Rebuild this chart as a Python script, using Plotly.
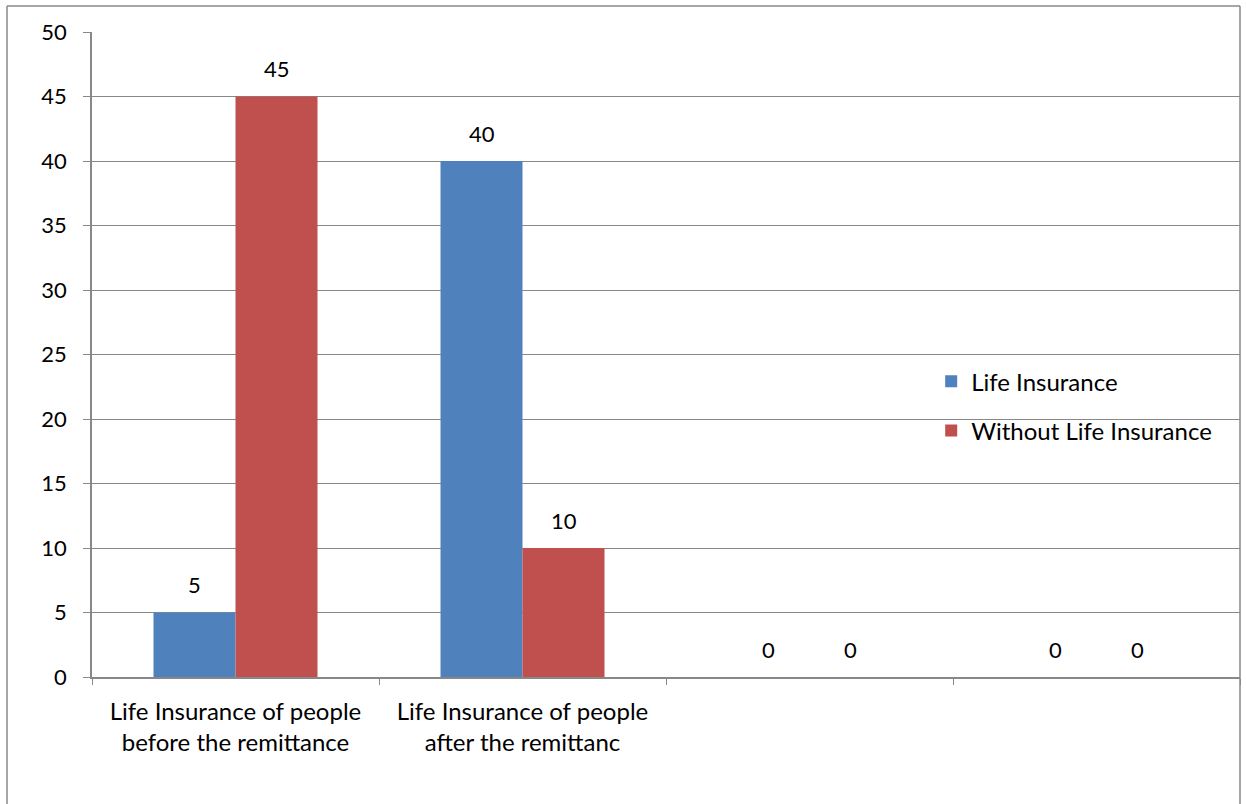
import plotly.graph_objects as go

categories = ["Life Insurance of people<br>before the remittance",
              "Life Insurance of people<br>after the remittanc", " ", "  "]
life_insurance = [5, 40, 0, 0]
without_life_insurance = [45, 10, 0, 0]
series_names = ["Life Insurance", "Without Life Insurance"]
colors = ["#4F81BD", "#C0504D"]
y_ticks = [0, 5, 10, 15, 20, 25, 30, 35, 40, 45, 50]

FONT = "Lato, Noto Sans, sans-serif"
GRID = "#888888"
FS = 22
FS_TXT = 24

fig = go.Figure()
for name, vals, col in zip(series_names, [life_insurance, without_life_insurance], colors):
    fig.add_trace(go.Bar(x=categories, y=vals, name=name, marker_color=col,
                         marker_line_width=0, legendgroup=name))

annotations = []
for shift, vals in zip([-41, 41], [life_insurance, without_life_insurance]):
    for c, v in zip(categories, vals):
        annotations.append(dict(x=c, y=v, xref="x", yref="y", text=str(v), showarrow=False,
                                xshift=shift, yshift=28, font=dict(size=FS, color="black", family=FONT)))

fig.update_layout(
    width=1246, height=804,
    margin=dict(l=92, r=6, t=32, b=127),
    paper_bgcolor="white", plot_bgcolor="white",
    barmode="group", bargap=1.5 / 3.5, bargroupgap=0,
    font=dict(family=FONT, size=FS, color="black"),
    showlegend=True,
    legend=dict(x=0.731, y=0.42, xanchor="left", yanchor="middle",
                font=dict(size=FS_TXT, family=FONT), tracegroupgap=15,
                bgcolor="rgba(0,0,0,0)"),
    annotations=annotations,
    shapes=[
        dict(type="line", xref="paper", yref="paper", x0=(7 - 92) / 1148, x1=(7 - 92) / 1148,
             y0=(677 - 6) / 645, y1=-(804 - 677) / 645, line=dict(color=GRID, width=1.5)),
        dict(type="line", xref="paper", yref="paper", x0=(7 - 92) / 1148, x1=1.0,
             y0=(677 - 6) / 645, y1=(677 - 6) / 645, line=dict(color=GRID, width=1.5)),
        dict(type="line", xref="paper", yref="paper", x0=1.0, x1=1.0,
             y0=(677 - 6) / 645, y1=-(804 - 677) / 645, line=dict(color=GRID, width=1.5)),
    ],
)
fig.update_xaxes(showgrid=False, showline=True, linecolor=GRID, linewidth=1.5,
                 ticks="outside", ticklen=6, tickcolor=GRID, tickson="boundaries",
                 ticklabelstandoff=12,
                 tickfont=dict(size=FS_TXT, family=FONT, color="black"))
fig.update_yaxes(range=[0, 50], tickvals=y_ticks, showgrid=True, gridcolor=GRID, gridwidth=1.2,
                 showline=True, linecolor=GRID, linewidth=1.5, ticks="outside", ticklen=7,
                 tickcolor=GRID, zeroline=False, ticklabelstandoff=12,
                 tickfont=dict(size=FS, family=FONT, color="black"))

fig.write_html("out.html")
